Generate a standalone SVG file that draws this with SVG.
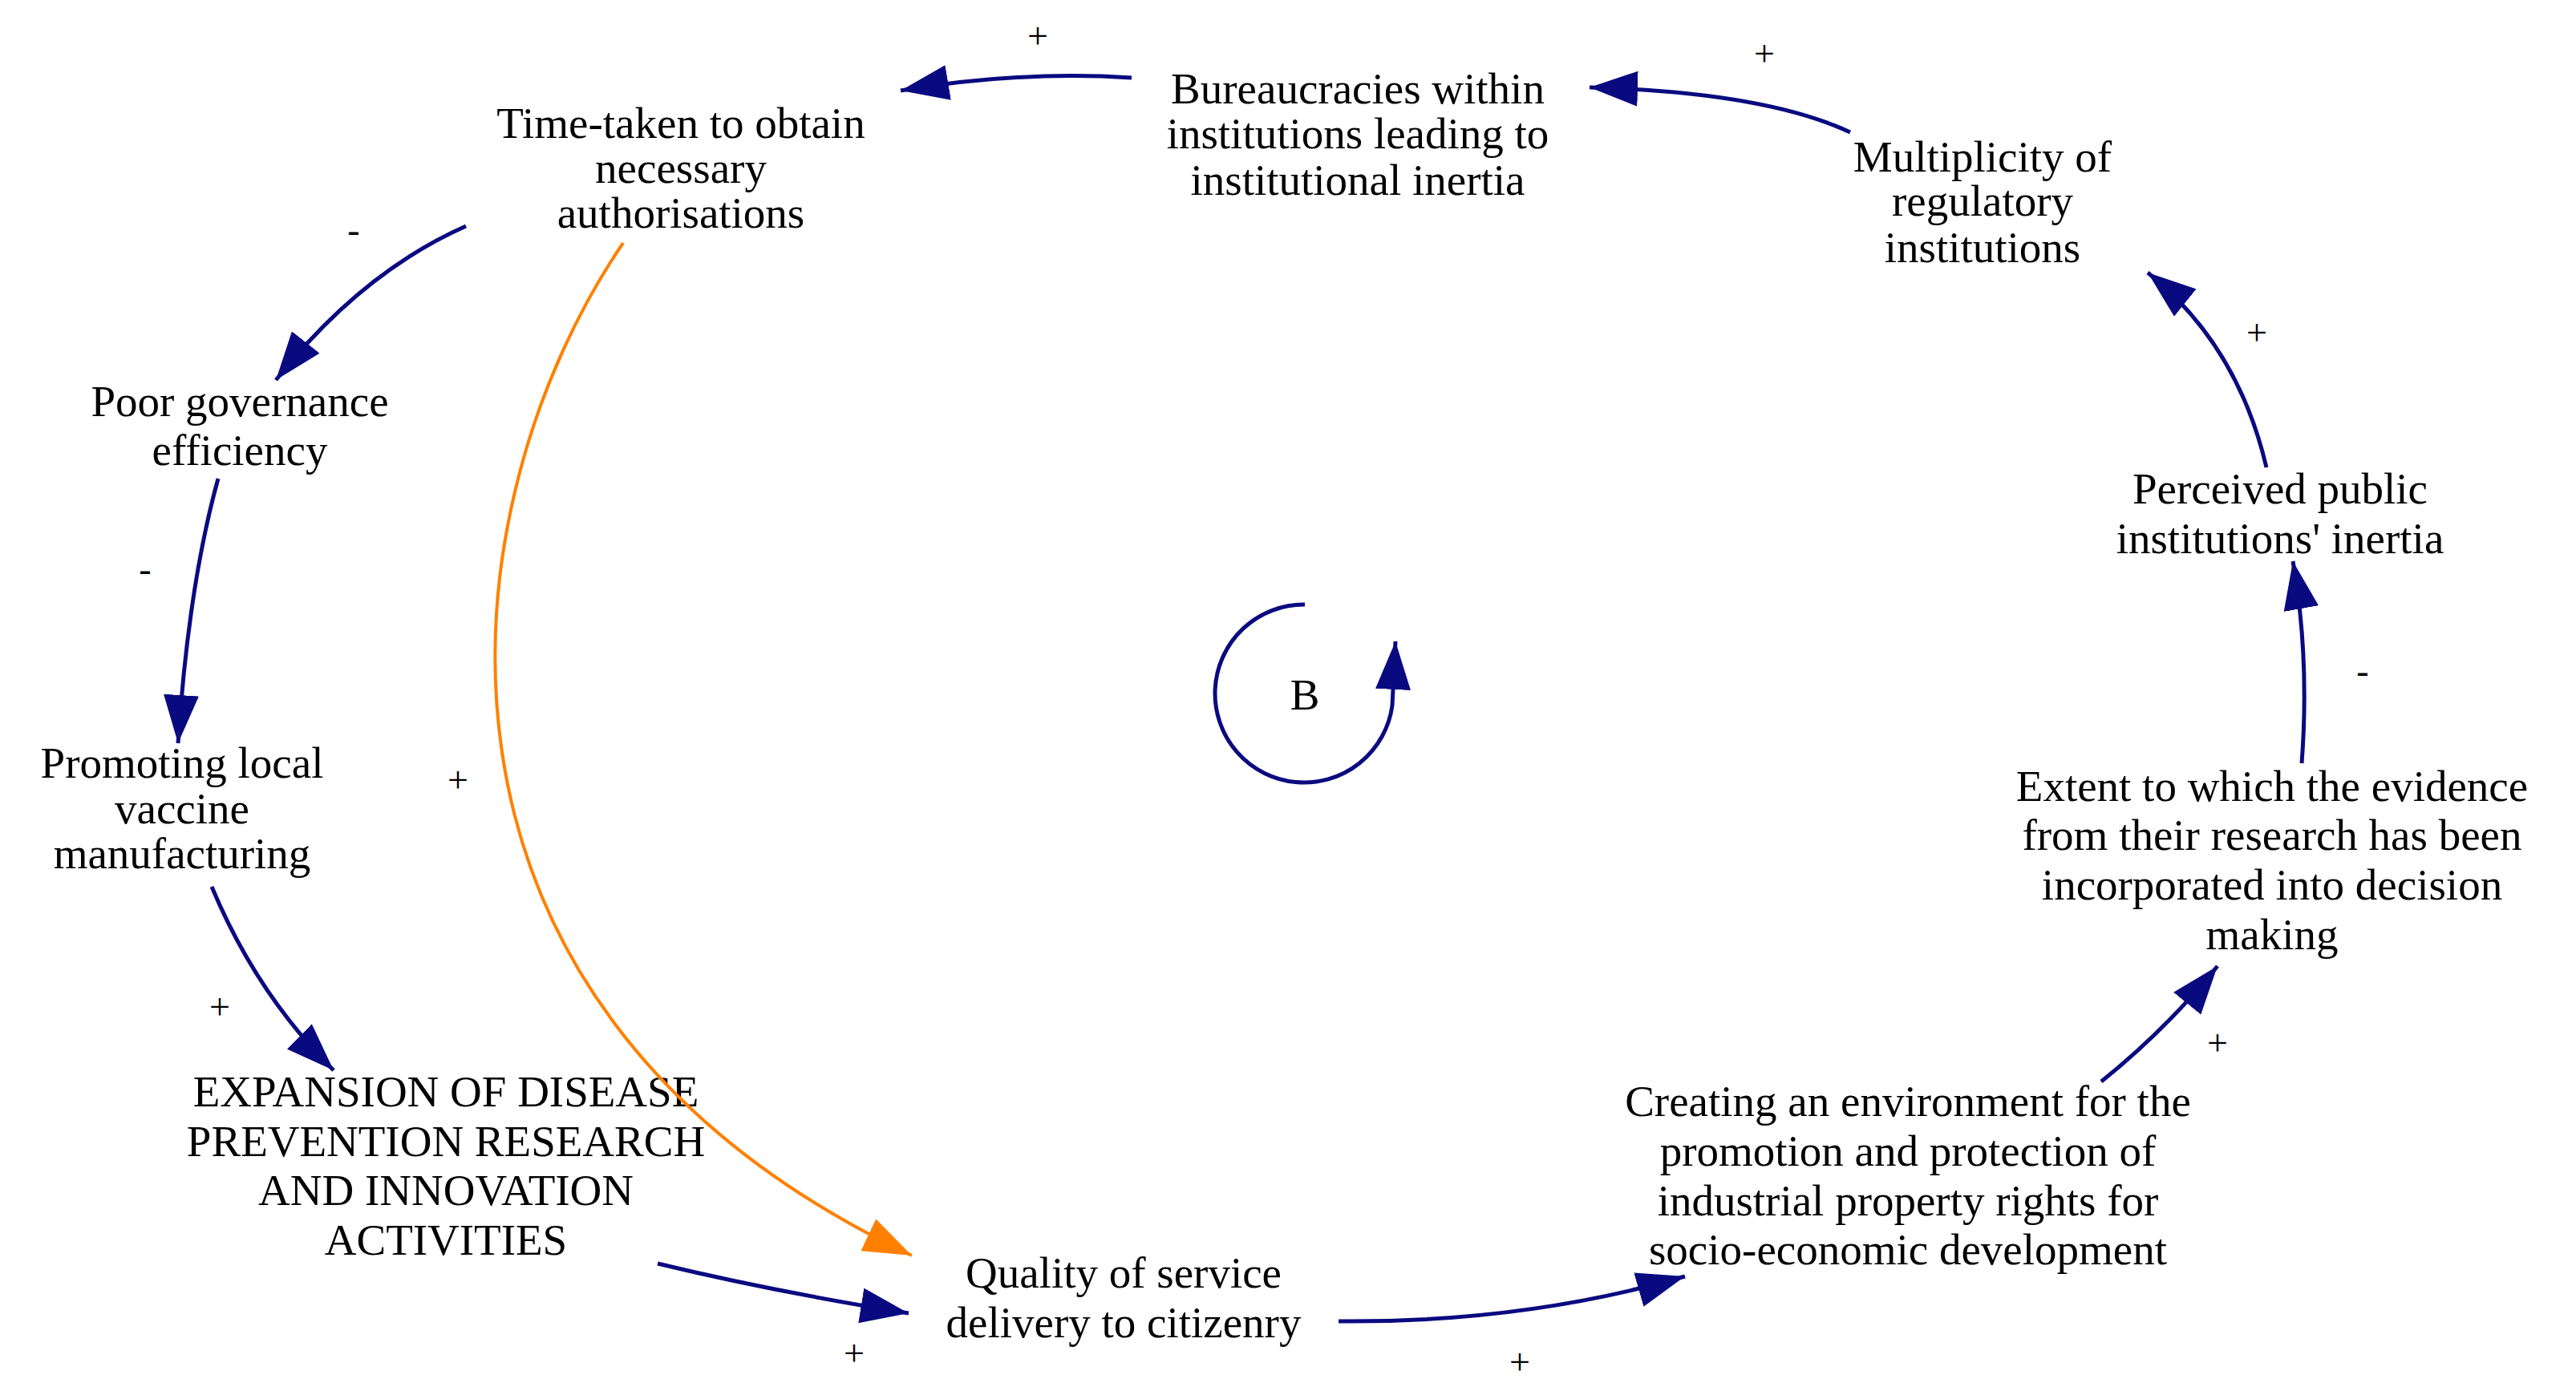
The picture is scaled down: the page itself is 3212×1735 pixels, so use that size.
<svg xmlns="http://www.w3.org/2000/svg" width="3212" height="1735" viewBox="0 0 3212 1735">
<style>
text{font-family:"Liberation Serif","DejaVu Serif",serif;font-size:55px;fill:#000;text-anchor:middle}
.s{font-size:46px}
.e{fill:none;stroke:#0a0a80;stroke-width:5}
.o{fill:none;stroke:#ff8000;stroke-width:4}
</style>
<defs>
<marker id="a" markerUnits="userSpaceOnUse" markerWidth="64" markerHeight="46" refX="60" refY="22" orient="auto"><path d="M0,0 L60,22 L0,44 z" fill="#0a0a80"/></marker>
<marker id="ao" markerUnits="userSpaceOnUse" markerWidth="64" markerHeight="46" refX="60" refY="22" orient="auto"><path d="M0,0 L60,22 L0,44 z" fill="#ff8000"/></marker>
</defs>
<rect width="3212" height="1735" fill="#fff"/>
<g id="time"><text x="849" y="172">Time-taken to obtain</text><text x="849" y="228">necessary</text><text x="849" y="284">authorisations</text></g>
<g id="bureau"><text x="1693" y="129">Bureaucracies within</text><text x="1693" y="185">institutions leading to</text><text x="1693" y="243">institutional inertia</text></g>
<g id="multi"><text x="2472" y="214">Multiplicity of</text><text x="2472" y="269">regulatory</text><text x="2472" y="327">institutions</text></g>
<g id="perceived"><text x="2843" y="628">Perceived public</text><text x="2843" y="690">institutions' inertia</text></g>
<g id="extent"><text x="2833" y="999">Extent to which the evidence</text><text x="2833" y="1060">from their research has been</text><text x="2833" y="1122">incorporated into decision</text><text x="2833" y="1184">making</text></g>
<g id="creating"><text x="2379" y="1392">Creating an environment for the</text><text x="2379" y="1454">promotion and protection of</text><text x="2379" y="1516">industrial property rights for</text><text x="2379" y="1577">socio-economic development</text></g>
<g id="quality"><text x="1401" y="1606">Quality of service</text><text x="1401" y="1668">delivery to citizenry</text></g>
<g id="expansion"><text x="556" y="1380">EXPANSION OF DISEASE</text><text x="556" y="1442">PREVENTION RESEARCH</text><text x="556" y="1503">AND INNOVATION</text><text x="556" y="1565">ACTIVITIES</text></g>
<g id="promoting"><text x="227" y="970">Promoting local</text><text x="227" y="1027">vaccine</text><text x="227" y="1083">manufacturing</text></g>
<g id="poor"><text x="299" y="519">Poor governance</text><text x="299" y="580">efficiency</text></g>
<g id="loop"><text x="1627" y="885">B</text><path class="e" d="M1627 754 A111 111 0 1 0 1736 880 L1740 800" marker-end="url(#a)"/></g>
<g id="connectors">
<path class="e" d="M1411 97 Q1270 88 1123 113" marker-end="url(#a)"/>
<path class="e" d="M2307 165 Q2200 115 1982 109" marker-end="url(#a)"/>
<path class="e" d="M2826 583 Q2790 430 2678 340" marker-end="url(#a)"/>
<path class="e" d="M2870 952 Q2880 820 2859 700" marker-end="url(#a)"/>
<path class="e" d="M2620 1349 Q2700 1285 2765 1205" marker-end="url(#a)"/>
<path class="e" d="M1669 1648 Q1900 1650 2101 1592" marker-end="url(#a)"/>
<path class="e" d="M820 1576 Q960 1610 1133 1638" marker-end="url(#a)"/>
<path class="e" d="M264 1106 Q320 1240 416 1335" marker-end="url(#a)"/>
<path class="e" d="M272 597 Q235 730 222 927" marker-end="url(#a)"/>
<path class="e" d="M581 282 Q450 340 344 474" marker-end="url(#a)"/>
<path class="o" d="M777 303 C560 620 470 1250 1137 1566" marker-end="url(#ao)"/>
<text class="s" x="1294" y="60">+</text>
<text class="s" x="2200" y="82">+</text>
<text class="s" x="2814" y="430">+</text>
<text class="s" x="2946" y="852">-</text>
<text class="s" x="2765" y="1316">+</text>
<text class="s" x="1895" y="1714">+</text>
<text class="s" x="1065" y="1703">+</text>
<text class="s" x="274" y="1271">+</text>
<text class="s" x="181" y="725">-</text>
<text class="s" x="441" y="302">-</text>
<text class="s" x="571" y="988">+</text>
</g>
</svg>
